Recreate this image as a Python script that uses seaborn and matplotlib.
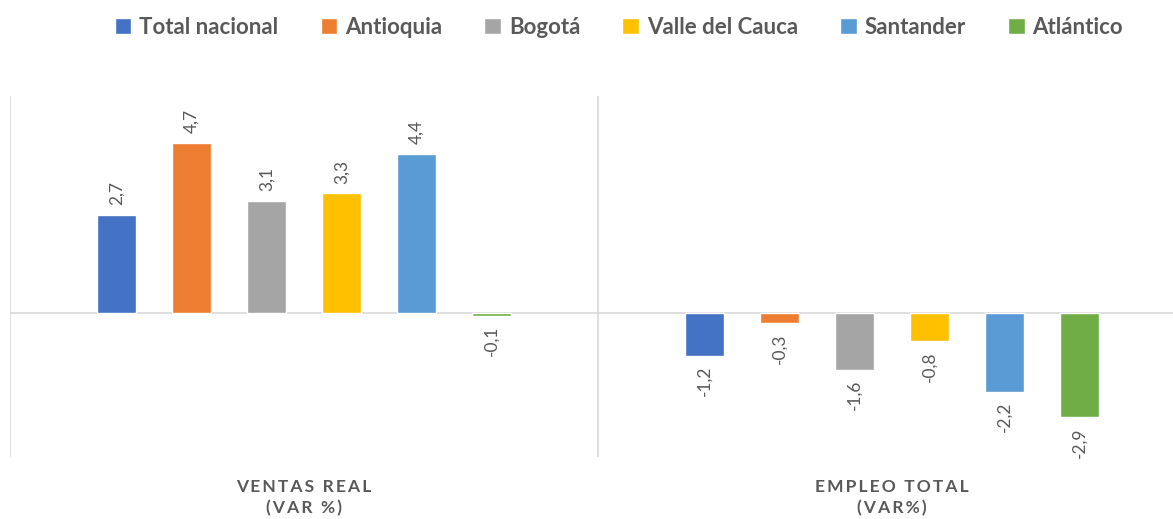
import pandas as pd
import seaborn as sns
import matplotlib.pyplot as plt

# datos
indicadores = ['VENTAS REAL\n(VAR %)', 'EMPLEO TOTAL\n(VAR%)']
regiones = ['Total nacional', 'Antioquia', 'Bogotá', 'Valle del Cauca', 'Santander', 'Atlántico']
ventas = [2.7, 4.7, 3.1, 3.3, 4.4, -0.1]
empleo = [-1.2, -0.3, -1.6, -0.8, -2.2, -2.9]
colores = ['#4472C4', '#ED7D31', '#A5A5A5', '#FFC000', '#5B9BD5', '#70AD47']

df = pd.DataFrame({
    'indicador': [indicadores[0]] * 6 + [indicadores[1]] * 6,
    'region': regiones * 2,
    'valor': ventas + empleo,
})

sns.set_style('white')
plt.rcParams['font.family'] = ['Lato', 'DejaVu Sans']

fig = plt.figure(figsize=(11.73, 5.19), dpi=100)
# el eje se sale por la derecha como en la imagen original
ax = fig.add_axes([10 / 1173, 62 / 519, 1176 / 1173, 361 / 519])

sns.barplot(data=df, x='indicador', y='valor', hue='region', palette=colores,
            saturation=1, width=0.765, gap=0.47, ax=ax, legend=True)

ax.set_xlim(-0.5, 1.5)
ax.set_ylim(-4, 6)
ax.axhline(0, color='#d9d9d9', lw=1.2, zorder=0)
for x in [-0.5, 0.5, 1.5]:
    ax.axvline(x, color='#d9d9d9', lw=1.2, zorder=0)

for c in ax.containers:
    ax.bar_label(c, fmt=lambda v: f'{v:.1f}'.replace('.', ','), rotation=90,
                 padding=7, fontsize=12.5, color='#595959')

sns.despine(ax=ax, left=True, bottom=True)
ax.set_yticks([])
ax.set_xlabel('')
ax.set_ylabel('')

# espaciado entre letras como en excel
def espaciar(s):
    return '\n'.join('\u2009'.join(linea) for linea in s.split('\n'))

ax.set_xticks([0, 1])
ax.set_xticklabels([espaciar(s) for s in indicadores])
ax.tick_params(axis='x', length=0, pad=16)
for t in ax.get_xticklabels():
    t.set_fontsize(12.5)
    t.set_fontweight('bold')
    t.set_color('#595959')
    t.set_linespacing(1.35)

handles, labels = ax.get_legend_handles_labels()
ax.legend_.remove()
fig.legend(handles, labels, loc='center', bbox_to_anchor=(619 / 1173, 1 - 27 / 519),
           ncol=6, frameon=False, handlelength=0.75, handleheight=0.75,
           handletextpad=0.35, columnspacing=1.9,
           prop={'size': 16, 'weight': 'bold'}, labelcolor='#595959')

fig.savefig('out.png', dpi=100)
